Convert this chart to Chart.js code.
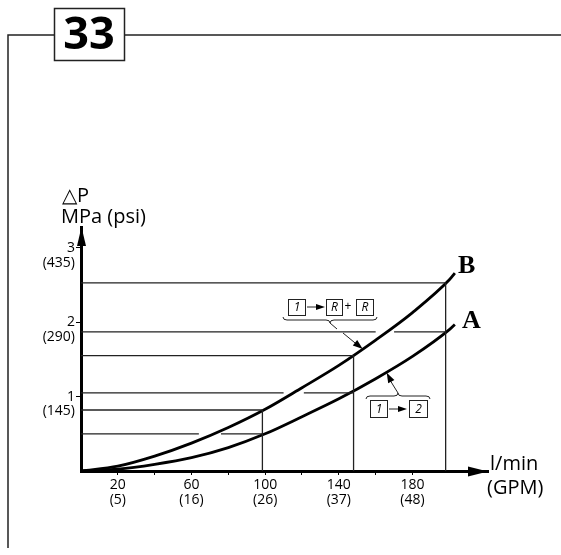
<!DOCTYPE html>
<html>
<head>
<meta charset="utf-8">
<script src="https://cdn.jsdelivr.net/npm/chart.js@4.4.1/dist/chart.umd.min.js"></script>
<style>
  html, body { margin: 0; padding: 0; background: #fff; }
  #wrap { width: 561px; height: 555px; }
</style>
</head>
<body>
<div id="wrap"><canvas id="pressureChart" width="561" height="555"></canvas></div>
<script>
// Flow rate samples (l/min) along both curves
const flowLpm = [0, 20, 40, 60, 80, 100, 120, 140, 160, 180, 200, 203];
// Pressure drop (MPa), curve B  (1 -> R + R)
const dropB = [0, 0.065, 0.20, 0.375, 0.585, 0.83, 1.12, 1.42, 1.76, 2.13, 2.57, 2.66];
// Pressure drop (MPa), curve A  (1 -> 2)
const dropA = [0, 0.025, 0.09, 0.18, 0.315, 0.50, 0.73, 0.97, 1.24, 1.54, 1.90, 1.97];

const readFlow = [98.5, 148, 198];
const readDropB = [0.82, 1.55, 2.53];
const readDropA = [0.50, 1.05, 1.87];
// Breaks in the A reading lines where curve B passes (l/min)
const gapA = [[64, 76], [110, 121], [160, 170]];

// Axis ticks
const yTickValues = [1, 2, 3];
const yTickLabels = [['1', '(145)'], ['2', '(290)'], ['3', '(435)']];
const xTickValues = [20, 40, 60, 80, 100, 120, 140, 160, 180];
const xLabelValues = [20, 60, 100, 140, 180];
const xTickLabels = [['20', '(5)'], ['60', '(16)'], ['100', '(26)'], ['140', '(37)'], ['180', '(48)']];

const FONT = "'Open Sans', 'Noto Sans', sans-serif";

function segment(points, width) {
    return {
        data: points,
        borderColor: '#222',
        borderWidth: width,
        pointRadius: 0,
        fill: false,
        tension: 0,
        spanGaps: false
    };
}

function curve(values) {
    return {
        data: flowLpm.map((f, i) => ({ x: f, y: values[i] })),
        borderColor: '#000',
        borderWidth: 2.8,
        pointRadius: 0,
        fill: false,
        cubicInterpolationMode: 'monotone'
    };
}

const datasets = [];
readFlow.forEach((f, i) => {
    const b = readDropB[i], a = readDropA[i], g = gapA[i];
    datasets.push(segment([{ x: 0, y: b }, { x: f, y: b }], 1.3));
    datasets.push(segment([
        { x: 0, y: a }, { x: g[0], y: a },
        { x: (g[0] + g[1]) / 2, y: null },
        { x: g[1], y: a }, { x: f, y: a }
    ], 1.3));
    datasets.push(segment([{ x: f, y: 0 }, { x: f, y: b }], 1.3));
});
datasets.push(curve(dropB));
datasets.push(curve(dropA));

// --- drawing helpers for the decorations ---
function arrowHead(ctx, fromX, fromY, tipX, tipY, len, half) {
    const ang = Math.atan2(tipY - fromY, tipX - fromX);
    ctx.beginPath();
    ctx.moveTo(tipX, tipY);
    ctx.lineTo(tipX - len * Math.cos(ang) + half * Math.sin(ang), tipY - len * Math.sin(ang) - half * Math.cos(ang));
    ctx.lineTo(tipX - len * Math.cos(ang) - half * Math.sin(ang), tipY - len * Math.sin(ang) + half * Math.cos(ang));
    ctx.closePath();
    ctx.fill();
}

function brace(ctx, x0, x1, y, d) {
    const xc = (x0 + x1) / 2, r = 4, m = y + d / 2;
    ctx.beginPath();
    ctx.moveTo(x0, y);
    ctx.quadraticCurveTo(x0, m, x0 + r, m);
    ctx.lineTo(xc - r, m);
    ctx.quadraticCurveTo(xc, m, xc, y + d);
    ctx.quadraticCurveTo(xc, m, xc + r, m);
    ctx.lineTo(x1 - r, m);
    ctx.quadraticCurveTo(x1, m, x1, y);
    ctx.stroke();
}

function tagBox(ctx, x, y, w, h, txt) {
    ctx.strokeRect(x + 0.5, y + 0.5, w, h);
    ctx.fillText(txt, x + w / 2 + 0.5, y + h / 2 + 1);
}

function smallArrow(ctx, x0, x1, y) {
    ctx.beginPath();
    ctx.moveTo(x0, y);
    ctx.lineTo(x1 - 6, y);
    ctx.stroke();
    arrowHead(ctx, x0, y, x1, y, 9, 3);
}

const diagramExtras = {
    id: 'diagramExtras',
    afterDraw(chart) {
        const ctx = chart.ctx;
        const area = chart.chartArea;
        const xs = chart.scales.x, ys = chart.scales.y;
        ctx.save();
        ctx.strokeStyle = '#222';
        ctx.fillStyle = '#000';

        // page frame and figure number
        ctx.lineWidth = 1.5;
        ctx.beginPath();
        ctx.moveTo(8, 548);
        ctx.lineTo(8, 35);
        ctx.lineTo(54, 35);
        ctx.moveTo(124, 35);
        ctx.lineTo(561, 35);
        ctx.stroke();
        ctx.strokeRect(54.5, 8.5, 70, 52);
        ctx.font = "bold 45px " + FONT;
        ctx.textAlign = 'center';
        ctx.textBaseline = 'middle';
        ctx.fillText('33', 89, 36);

        // axis arrowheads
        ctx.beginPath();
        ctx.moveTo(area.left + 0.5, area.top);
        ctx.lineTo(area.left + 5, area.top + 19);
        ctx.lineTo(area.left - 4, area.top + 19);
        ctx.closePath();
        ctx.fill();
        ctx.beginPath();
        ctx.moveTo(area.right, area.bottom + 0.5);
        ctx.lineTo(area.right - 20, area.bottom - 4.5);
        ctx.lineTo(area.right - 20, area.bottom + 5.5);
        ctx.closePath();
        ctx.fill();

        // axis titles
        ctx.textAlign = 'left';
        ctx.textBaseline = 'alphabetic';
        ctx.font = "20px " + FONT;
        ctx.fillText('\u25B3P', 62, 202);
        ctx.fillText('MPa (psi)', 61, 223);
        ctx.fillText('l/min', 490, 470);
        ctx.fillText('(GPM)', 487, 494);

        // curve letters
        ctx.font = "bold 26px 'Liberation Serif', serif";
        ctx.fillText('B', 458, 273);
        ctx.fillText('A', 462, 328);

        // annotation for curve B
        ctx.lineWidth = 1;
        ctx.font = "italic 12px " + FONT;
        ctx.textAlign = 'center';
        ctx.textBaseline = 'middle';
        tagBox(ctx, 288, 299, 17, 16, '1');
        smallArrow(ctx, 307, 325, 307);
        tagBox(ctx, 326, 299, 16, 16, 'R');
        ctx.font = "12px " + FONT;
        ctx.fillText('+', 348, 307);
        ctx.font = "italic 12px " + FONT;
        tagBox(ctx, 356, 299, 17, 16, 'R');
        brace(ctx, 283, 377, 317, 6);
        const tipB = [xs.getPixelForValue(153), ys.getPixelForValue(1.64)];
        ctx.beginPath();
        ctx.moveTo(330, 323);
        ctx.lineTo(337, 329);
        ctx.moveTo(343, 333);
        ctx.lineTo(tipB[0] - 4, tipB[1] - 3);
        ctx.stroke();
        arrowHead(ctx, 343, 333, tipB[0], tipB[1], 10, 3.5);

        // annotation for curve A
        tagBox(ctx, 370, 400, 17, 17, '1');
        smallArrow(ctx, 389, 407, 409);
        tagBox(ctx, 409, 400, 18, 17, '2');
        brace(ctx, 366, 430, 399, -6);
        const tipA = [xs.getPixelForValue(166), ys.getPixelForValue(1.32)];
        ctx.beginPath();
        ctx.moveTo(398, 393);
        ctx.lineTo(393, 385);
        ctx.lineTo(tipA[0] + 2, tipA[1] + 5);
        ctx.stroke();
        arrowHead(ctx, 393, 385, tipA[0], tipA[1], 10, 3.5);

        ctx.restore();
    }
};

new Chart(document.getElementById('pressureChart').getContext('2d'), {
    type: 'line',
    data: { datasets: datasets },
    options: {
        responsive: false,
        animation: false,
        events: [],
        layout: { padding: { top: 227, right: 73, bottom: 0, left: 0 } },
        scales: {
            x: {
                type: 'linear',
                min: 0,
                max: 221,
                afterFit: s => { s.height = 84; },
                afterBuildTicks: s => { s.ticks = xTickValues.map(v => ({ value: v })); },
                grid: { drawOnChartArea: false, drawTicks: true, tickLength: 4, color: '#000', lineWidth: 1 },
                border: { color: '#000', width: 3 },
                ticks: {
                    autoSkip: false,
                    maxRotation: 0,
                    minRotation: 0,
                    padding: 3,
                    color: '#000',
                    font: { family: FONT, size: 14, lineHeight: 1.05 },
                    callback: (v) => {
                        const k = xLabelValues.indexOf(v);
                        return k >= 0 ? xTickLabels[k] : '';
                    }
                }
            },
            y: {
                type: 'linear',
                min: 0,
                max: 3.28,
                afterFit: s => { s.width = 81; },
                afterBuildTicks: s => { s.ticks = yTickValues.map(v => ({ value: v })); },
                grid: { drawOnChartArea: false, drawTicks: true, tickLength: 5, color: '#000', lineWidth: 1 },
                border: { color: '#000', width: 3 },
                ticks: {
                    padding: 1,
                    labelOffset: 7.5,
                    color: '#000',
                    font: { family: FONT, size: 14, lineHeight: 1.05 },
                    callback: (v, i) => yTickLabels[i]
                }
            }
        },
        plugins: {
            legend: { display: false },
            tooltip: { enabled: false }
        }
    },
    plugins: [diagramExtras]
});
</script>
</body>
</html>
